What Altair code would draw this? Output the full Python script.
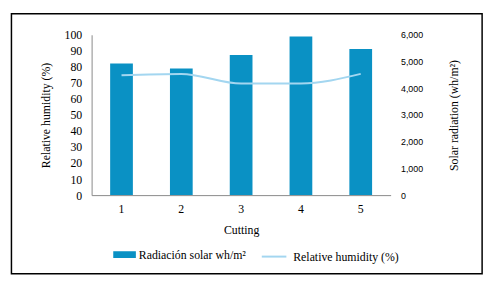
import altair as alt
import pandas as pd

cuttings = ["1", "2", "3", "4", "5"]
radiation = [4930, 4740, 5240, 5940, 5470]
humidity = [74.8, 75.6, 69.6, 69.6, 75.6]

bar_label = "Radiación solar wh/m²"
line_label = "Relative humidity (%)"

df = pd.DataFrame({"Cutting": cuttings, "rad": radiation, "hum": humidity})

serif = "'Liberation Serif', 'Times New Roman', 'DejaVu Serif', serif"
sans = "'Liberation Sans', Arial, 'DejaVu Sans', sans-serif"
bar_color = "#0A91C4"
line_color = "#A3D6F0"

x = alt.X("Cutting:O", title="Cutting",
          scale=alt.Scale(paddingInner=0.62, paddingOuter=0.31),
          axis=alt.Axis(labelAngle=0, ticks=False, domainColor="#888888",
                        labelPadding=9, titlePadding=10, labelFontSize=12,
                        titleFontSize=12, labelFont=serif, titleFont=serif,
                        titleFontWeight="normal", labelColor="#000", titleColor="#000"))

bars = alt.Chart(df).mark_bar(color=bar_color).encode(
    x=x,
    y=alt.Y("rad:Q", title="Solar radiation (wh/m²)",
            scale=alt.Scale(domain=[0, 6000]),
            axis=alt.Axis(orient="right", values=[0, 1000, 2000, 3000, 4000, 5000, 6000],
                          format=",.0f", grid=False, domain=False, ticks=False,
                          labelPadding=10, titlePadding=38, titleAngle=270,
                          labelFont=sans, labelFontSize=9,
                          titleFont=serif, titleFontSize=12, titleFontWeight="normal",
                          labelColor="#000", titleColor="#000")),
    color=alt.Color("lbl:N", scale=alt.Scale(domain=[bar_label], range=[bar_color]),
                    legend=alt.Legend(title=None, orient="none", legendX=22, legendY=212,
                                      symbolType="M-1,-0.3H1V0.3H-1Z", symbolSize=529,
                                      symbolStrokeWidth=0, labelFont=serif, labelFontSize=12,
                                      labelColor="#000", labelOffset=3, padding=0)),
).transform_calculate(lbl=f"'{bar_label}'")

line = alt.Chart(df).mark_line(strokeWidth=2, color=line_color, interpolate="monotone").encode(
    x=x,
    y=alt.Y("hum:Q", title="Relative humidity (%)",
            scale=alt.Scale(domain=[0, 100]),
            axis=alt.Axis(orient="left", values=list(range(0, 101, 10)), grid=False,
                          ticks=False, domainColor="#888888", labelPadding=10, titlePadding=12,
                          labelFont=serif, labelFontSize=12, titleFont=serif, titleFontSize=12,
                          titleFontWeight="normal", labelColor="#000", titleColor="#000")),
    stroke=alt.Stroke("lbl2:N", scale=alt.Scale(domain=[line_label], range=[line_color]),
                      legend=alt.Legend(title=None, orient="none", legendX=172, legendY=212,
                                        symbolType="stroke", symbolSize=625, symbolStrokeWidth=2,
                                        labelFont=serif, labelFontSize=12, labelColor="#000",
                                        labelOffset=6, padding=0)),
).transform_calculate(lbl2=f"'{line_label}'")

frame = alt.Chart(df).mark_rect(fill=None, stroke="#000", strokeWidth=1.5).encode(
    x=alt.value(-81.5), x2=alt.value(397), y=alt.value(-21.5), y2=alt.value(243)
).transform_filter("datum.Cutting == '1'")

chart = alt.layer(bars, line, frame).resolve_scale(
    y="independent", color="independent", stroke="independent"
).properties(
    width=304, height=163,
    autosize=alt.AutoSizeParams(type="none"),
    padding={"left": 85, "top": 25, "right": 100, "bottom": 81},
).configure_view(stroke=None)

chart.save("out.html", embed_options={"renderer": "svg", "actions": False})
